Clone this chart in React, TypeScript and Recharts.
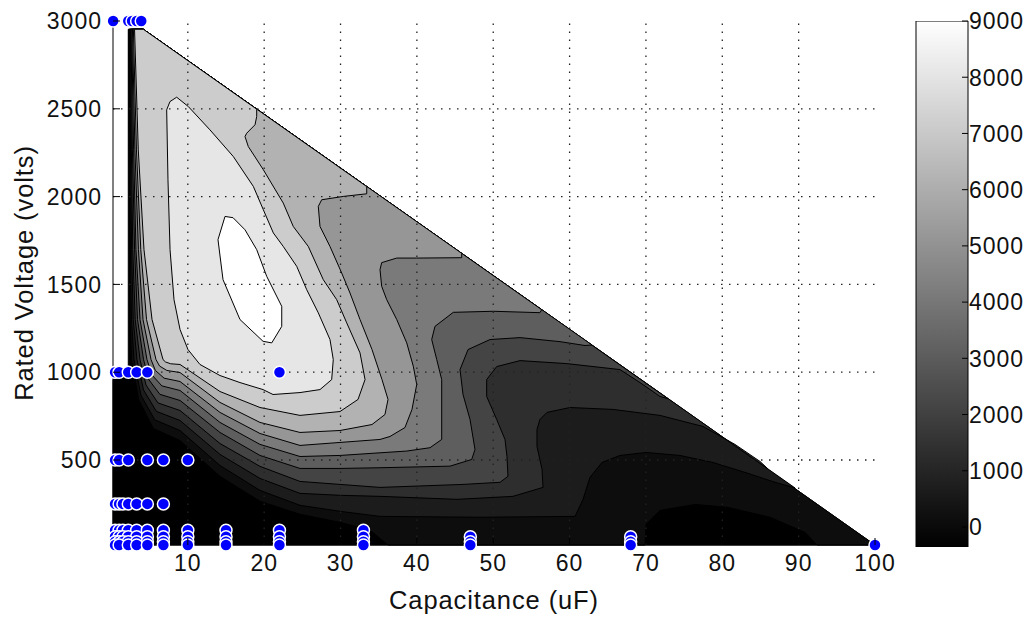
import React from 'react';
import {
  ScatterChart,
  Scatter,
  XAxis,
  YAxis,
  ReferenceLine,
  Label,
  BarChart,
  Bar,
} from 'recharts';

type Vertex = [number, number];

// axes
const CAP_RANGE: [number, number] = [0.2, 100];
const VOLT_RANGE: [number, number] = [16, 3000];
const CAP_TICKS = [10, 20, 30, 40, 50, 60, 70, 80, 90, 100];
const VOLT_TICKS = [500, 1000, 1500, 2000, 2500, 3000];
const CAP_GRID = [10, 20, 30, 40, 50, 60, 70, 80, 90];
const VOLT_GRID = [500, 1000, 1500, 2000, 2500];

// colour bar
const CBAR_RANGE: [number, number] = [-356, 9000];
const CBAR_TICKS = [0, 1000, 2000, 3000, 4000, 5000, 6000, 7000, 8000, 9000];
const CBAR_SPAN = [{ name: 'scale', span: [-356, 9000] }];

// fill for each filled contour level, lowest first
const LEVEL_FILLS = [
  '#000000', '#0d0d0d', '#1c1c1c', '#2e2e2e', '#444444', '#5e5e5e',
  '#7a7a7a', '#969696', '#b2b2b2', '#cccccc', '#e6e6e6', '#ffffff',
];

// interpolated region (capacitance uF, voltage V)
const DOMAIN: Vertex[] = [
  [2.2, 2953], [4.17, 2953], [100, 16], [0.2, 16], [0.2, 958], [2.2, 1004],
];

// superlevel regions, one per contour level
const LEVEL_1: Vertex[] = [
  [2.27, 2953], [2.3, 2266], [2.35, 1698], [2.43, 1300], [2.62, 1072], [3.58, 842],
  [5.48, 680], [8.98, 611], [14.21, 407], [19.45, 265], [24.69, 191], [29.93, 145],
  [33.86, 100], [36.22, 16], [69.88, 16], [70.01, 134], [71.84, 213], [76.43, 247],
  [80.75, 230], [86.25, 174], [90.83, 88], [92.4, 16], [100, 16], [4.17, 2953],
];
const LEVEL_2: Vertex[] = [
  [2.34, 2953], [2.39, 2266], [2.48, 1698], [2.62, 1300], [2.95, 1072], [3.85, 870],
  [5.66, 729], [8.98, 668], [14.21, 469], [19.45, 327], [24.69, 242], [29.93, 208],
  [35.17, 179], [48.27, 174], [60.71, 179], [61.76, 276], [62.67, 401], [64.24, 486],
  [66.6, 526], [70.01, 543], [74.46, 526], [78.78, 486], [83.37, 424], [86.9, 373],
  [89.52, 341], [4.17, 2953],
];
const LEVEL_3: Vertex[] = [
  [2.4, 2953], [2.49, 2266], [2.64, 1698], [2.85, 1300], [3.34, 1072], [4.2, 899],
  [5.88, 777], [8.98, 725], [14.21, 532], [19.45, 395], [24.69, 310], [29.93, 299],
  [35.17, 293], [45.25, 276], [52.59, 293], [56.52, 344], [56.39, 447], [55.73, 577],
  [55.73, 674], [56.12, 731], [57.04, 771], [60.05, 799], [65.69, 788], [71.84, 754],
  [77.47, 691], [81.66, 589], [84.94, 492], [85.99, 449], [4.17, 2953],
];
const LEVEL_4: Vertex[] = [
  [2.48, 2953], [2.61, 2266], [2.79, 1698], [3.11, 1300], [3.74, 1072], [4.52, 927],
  [6.09, 825], [8.98, 782], [14.21, 594], [19.45, 464], [24.69, 378], [29.93, 361],
  [35.17, 344], [46.04, 361], [50.89, 373], [51.93, 407], [51.8, 520], [51.54, 617],
  [50.45, 731], [49.14, 862], [49.14, 958], [50.45, 1032], [53.51, 1066], [59.62, 1049],
  [66.6, 1015], [69.22, 941], [71.84, 862], [72.89, 849], [4.17, 2953],
];
const LEVEL_5: Vertex[] = [
  [2.56, 2953], [2.74, 2266], [3.03, 1698], [3.41, 1300], [4.2, 1072], [4.92, 956],
  [6.34, 874], [8.98, 839], [14.21, 657], [19.45, 526], [24.69, 452], [29.93, 452],
  [35.17, 456], [44.34, 465], [47.18, 503], [47.61, 560], [46.96, 731], [46.04, 873],
  [45.65, 1015], [46.7, 1129], [49.58, 1186], [53.51, 1197], [58.74, 1174],
  [62.02, 1152], [62.94, 1155], [4.17, 2953],
];
const LEVEL_6: Vertex[] = [
  [2.65, 2953], [2.9, 2266], [3.21, 1698], [3.74, 1300], [4.65, 1072], [5.31, 984],
  [6.6, 922], [8.98, 896], [14.21, 714], [19.45, 589], [24.69, 520], [29.93, 526],
  [35.17, 541], [38.67, 551], [41.72, 570], [43.25, 617], [43.25, 958], [42.6, 1072],
  [41.94, 1186], [42.37, 1261], [44.77, 1341], [50.01, 1347], [56.12, 1339],
  [56.35, 1356], [4.17, 2953],
];
const LEVEL_7: Vertex[] = [
  [2.75, 2953], [3.07, 2266], [3.53, 1698], [4.13, 1300], [5.18, 1072], [5.75, 1010],
  [6.89, 966], [8.98, 947], [14.21, 771], [19.45, 651], [24.69, 583], [29.93, 600],
  [35.17, 617], [36.48, 634], [38.44, 685], [39.36, 788], [39.98, 930], [39.53, 1034],
  [38.67, 1167], [37.36, 1300], [36.05, 1413], [35.39, 1489], [35.17, 1584],
  [35.39, 1624], [37.36, 1650], [39.98, 1650], [45.87, 1652], [45.87, 1677], [4.17, 2953],
];
const LEVEL_8: Vertex[] = [
  [2.87, 2953], [3.27, 2266], [3.84, 1698], [4.59, 1300], [5.83, 1072], [6.3, 1035],
  [7.25, 1010], [8.98, 998], [14.21, 828], [19.45, 714], [24.69, 657], [29.93, 668],
  [34.12, 702], [35.82, 759], [36.22, 845], [35.43, 958], [34.12, 1129], [32.55, 1300],
  [31.24, 1451], [30.15, 1565], [28.62, 1716], [27.31, 1830], [27.09, 1944],
  [27.53, 1982], [30.36, 2001], [33.43, 2016], [33.43, 2057], [4.17, 2953],
];
const LEVEL_9: Vertex[] = [
  [3.02, 2953], [3.51, 2266], [4.26, 1698], [5.31, 1300], [6.75, 1072], [7.09, 1058],
  [7.76, 1048], [8.98, 1044], [14.21, 890], [19.45, 799], [24.69, 754], [29.93, 776],
  [32.29, 845], [33.21, 958], [32.55, 1110], [30.81, 1281], [29.5, 1413], [27.74, 1527],
  [25.78, 1716], [23.81, 1830], [22.5, 1963], [19.89, 2153], [17.92, 2285],
  [17.49, 2342], [17.71, 2361], [18.8, 2409], [19.02, 2456], [19.02, 2498], [4.17, 2953],
];
const LEVEL_10: Vertex[] = [
  [7.23, 2494], [7.4, 2096], [7.67, 1698], [8.19, 1413], [8.98, 1243], [10.02, 1129],
  [11.59, 1044], [14.21, 981], [16.83, 941], [19.85, 901], [21.16, 873], [24.69, 884],
  [27.31, 901], [28.84, 958], [29.05, 1072], [28.62, 1186], [27.09, 1338], [25.57, 1470],
  [24.26, 1603], [22.5, 1716], [21.2, 1793], [19.89, 1925], [18.58, 2058], [15.96, 2228],
  [12.9, 2380], [10.06, 2513], [8.54, 2566], [7.66, 2541],
];
const LEVEL_11: Vertex[] = [
  [14.87, 1887], [13.95, 1755], [14.61, 1527], [16.83, 1300], [19.85, 1176],
  [20.99, 1167], [22.3, 1261], [22.3, 1375], [20.33, 1546], [19.02, 1698],
  [17.49, 1811], [15.92, 1880],
];

const REGIONS = [
  DOMAIN, LEVEL_1, LEVEL_2, LEVEL_3, LEVEL_4, LEVEL_5,
  LEVEL_6, LEVEL_7, LEVEL_8, LEVEL_9, LEVEL_10, LEVEL_11,
];

// measured parts: capacitance values available at each rated voltage
const PARTS_3000 = [0.22, 2.2, 2.7, 3.3, 3.9];
const PARTS_1000 = [0.47, 1, 2.2, 3.3, 4.7, 22];
const PARTS_500 = [0.47, 1, 2.2, 4.7, 6.8, 10];
const PARTS_250 = [0.47, 1, 1.5, 2.2, 3.3, 4.7, 6.8];
const PARTS_100 = [0.47, 1, 1.5, 2.2, 3.3, 4.7, 6.8, 10, 15, 22, 33];
const PARTS_63 = [0.47, 1, 1.5, 2.2, 3.3, 4.7, 6.8, 10, 15, 22, 33, 47, 68];
const PARTS_35 = [0.47, 1, 1.5, 2.2, 3.3, 4.7, 6.8, 10, 15, 22, 33, 47, 68];
const PARTS_16 = [0.47, 1, 2.2, 3.3, 4.7, 6.8, 10, 15, 22, 33, 47, 68, 100];

const PART_ROWS: [number, number[]][] = [
  [3000, PARTS_3000], [1000, PARTS_1000], [500, PARTS_500], [250, PARTS_250],
  [100, PARTS_100], [63, PARTS_63], [35, PARTS_35], [16, PARTS_16],
];
const parts = PART_ROWS.flatMap(([v, caps]) => caps.map((c) => ({ c, v })));

const FONT = '"Liberation Sans", Arial, Helvetica, sans-serif';
const INK = '#111111';
const TICK_LEN = 7;
const TICK_FONT = 23;
const TITLE_FONT = 25.5;

const toXY = (poly: Vertex[]) => poly.map(([c, v]) => ({ c, v }));

// closes the joined scatter points into a filled, outlined patch
const patch = (fill: string) => (props: any) => {
  const pts: { x: number; y: number }[] = props.points || [];
  if (!pts.length) return <g />;
  const d = pts.map((p, i) => `${i ? 'L' : 'M'}${p.x},${p.y}`).join(' ') + ' Z';
  return <path d={d} fill={fill} stroke="#000" strokeWidth={1} strokeLinejoin="round" />;
};

const noDot = () => <g />;

const PartDot = (props: any) => (
  <circle cx={props.cx} cy={props.cy} r={6} fill="#0000ff" stroke="#ffffff" strokeWidth={1.5} />
);

const BottomTick = ({ x, y, payload }: any) => (
  <g>
    <line x1={x} y1={y} x2={x} y2={y - TICK_LEN} stroke="#000" />
    <text
      x={x}
      y={y + 26}
      textAnchor="middle"
      fontSize={TICK_FONT}
      letterSpacing={1}
      fontFamily={FONT}
      fill={INK}
    >
      {payload.value}
    </text>
  </g>
);

const TopTick = ({ x, y }: any) => <line x1={x} y1={y} x2={x} y2={y + TICK_LEN} stroke="#000" />;

const LeftTick = ({ x, y, payload }: any) => (
  <g>
    <line x1={x} y1={y} x2={x + TICK_LEN} y2={y} stroke="#000" />
    <text
      x={x - 11}
      y={y}
      dy="0.36em"
      textAnchor="end"
      fontSize={TICK_FONT}
      letterSpacing={1}
      fontFamily={FONT}
      fill={INK}
    >
      {payload.value}
    </text>
  </g>
);

const RightTick = ({ x, y }: any) => <line x1={x} y1={y} x2={x - TICK_LEN} y2={y} stroke="#000" />;

const CbarLeftTick = ({ x, y }: any) => <line x1={x} y1={y} x2={x + 6} y2={y} stroke="#000" />;

const CbarRightTick = ({ x, y, payload }: any) => (
  <g>
    <line x1={x} y1={y} x2={x - 6} y2={y} stroke="#000" />
    <text
      x={x + 1}
      y={y}
      dy="0.36em"
      textAnchor="start"
      fontSize={TICK_FONT}
      letterSpacing={1}
      fontFamily={FONT}
      fill={INK}
    >
      {payload.value}
    </text>
  </g>
);

const XTitle = ({ viewBox }: any) => (
  <text
    x={viewBox.x + viewBox.width / 2}
    y={viewBox.y + 64}
    textAnchor="middle"
    fontSize={TITLE_FONT}
    letterSpacing={0.9}
    fontFamily={FONT}
    fill={INK}
  >
    Capacitance (uF)
  </text>
);

const YTitle = ({ viewBox }: any) => {
  const x = 25;
  const y = viewBox.y + viewBox.height / 2 - 10;
  return (
    <text
      x={x}
      y={y}
      transform={`rotate(-90 ${x} ${y})`}
      textAnchor="middle"
      fontSize={TITLE_FONT}
      letterSpacing={0.9}
      fontFamily={FONT}
      fill={INK}
    >
      Rated Voltage (volts)
    </text>
  );
};

export default function App() {
  return (
    <div style={{ position: 'relative', width: 1020, height: 611 }}>
      <ScatterChart
        width={1020}
        height={611}
        margin={{ top: 13, right: 153, bottom: 0, left: 0 }}
      >
        {REGIONS.map((poly, k) => (
          <Scatter
            key={`level-${k}`}
            data={toXY(poly)}
            shape={noDot}
            line={patch(LEVEL_FILLS[k])}
            zIndex={100 + k}
            isAnimationActive={false}
          />
        ))}

        {CAP_GRID.map((c) => (
          <ReferenceLine
            key={`gx-${c}`}
            x={c}
            stroke="#222"
            strokeWidth={1.3}
            strokeDasharray="1.5 6.5"
            zIndex={450}
          />
        ))}
        {VOLT_GRID.map((v) => (
          <ReferenceLine
            key={`gy-${v}`}
            y={v}
            stroke="#222"
            strokeWidth={1.3}
            strokeDasharray="1.5 6.5"
            zIndex={450}
          />
        ))}

        <XAxis
          type="number"
          dataKey="c"
          domain={CAP_RANGE}
          ticks={CAP_TICKS}
          interval={0}
          height={74}
          stroke="#000"
          tickLine={false}
          tickSize={0}
          tickMargin={0}
          tick={BottomTick}
        >
          <Label content={XTitle} />
        </XAxis>
        <XAxis
          xAxisId="top"
          orientation="top"
          type="number"
          domain={CAP_RANGE}
          ticks={CAP_TICKS}
          interval={0}
          height={0}
          stroke="#000"
          allowDataOverflow
          tickLine={false}
          tickSize={0}
          tickMargin={0}
          tick={TopTick}
        />
        <YAxis
          type="number"
          dataKey="v"
          domain={VOLT_RANGE}
          ticks={VOLT_TICKS}
          interval={0}
          width={105}
          stroke="#000"
          tickLine={false}
          tickSize={0}
          tickMargin={0}
          tick={LeftTick}
        >
          <Label content={YTitle} />
        </YAxis>
        <YAxis
          yAxisId="right"
          orientation="right"
          type="number"
          domain={VOLT_RANGE}
          ticks={VOLT_TICKS}
          interval={0}
          width={0}
          stroke="#000"
          allowDataOverflow
          tickLine={false}
          tickSize={0}
          tickMargin={0}
          tick={RightTick}
        />

        <Scatter data={parts} shape={PartDot} zIndex={900} isAnimationActive={false} />
      </ScatterChart>

      <div style={{ position: 'absolute', left: 898, top: 0 }}>
        <BarChart
          width={128}
          height={560}
          data={CBAR_SPAN}
          margin={{ top: 13, right: 0, bottom: 21, left: 10 }}
          barCategoryGap={0}
        >
          <defs>
            <linearGradient id="cbarGray" x1="0" y1="1" x2="0" y2="0">
              <stop offset="0%" stopColor="#000000" />
              <stop offset="100%" stopColor="#ffffff" />
            </linearGradient>
          </defs>
          <XAxis dataKey="name" hide />
          <Bar
            yAxisId="right"
            dataKey="span"
            fill="url(#cbarGray)"
            stroke="#000"
            strokeWidth={1}
            isAnimationActive={false}
          />
          <YAxis
            yAxisId="left"
            orientation="left"
            width={0}
            domain={CBAR_RANGE}
            ticks={CBAR_TICKS}
            interval={0}
            allowDataOverflow
            axisLine={false}
            tickLine={false}
            tickSize={0}
            tickMargin={0}
            tick={CbarLeftTick}
          />
          <YAxis
            yAxisId="right"
            orientation="right"
            width={66}
            domain={CBAR_RANGE}
            ticks={CBAR_TICKS}
            interval={0}
            allowDataOverflow
            axisLine={false}
            tickLine={false}
            tickSize={0}
            tickMargin={0}
            tick={CbarRightTick}
          />
        </BarChart>
      </div>
    </div>
  );
}
